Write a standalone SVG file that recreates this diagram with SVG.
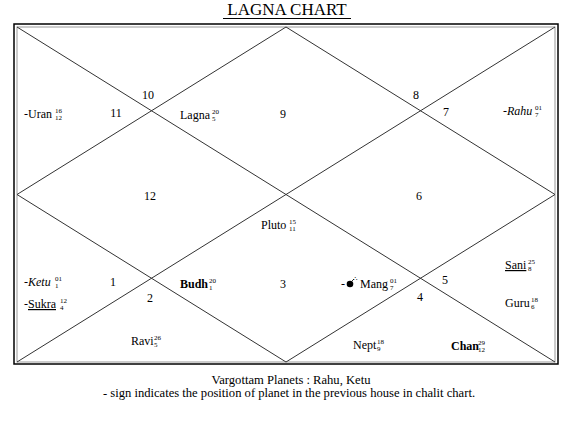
<svg xmlns="http://www.w3.org/2000/svg" width="561" height="427" viewBox="0 0 561 427">
<style>
text{font-family:"Liberation Serif","Times New Roman",serif;fill:#000;font-size:12px}
.t{font-size:17px}
.f{font-size:12.6px}
.s{font-size:7px}
.b{font-weight:bold}
.i{font-style:italic}
.u{text-decoration:underline}
.ln{stroke:#333;stroke-width:1;fill:none}
</style>
<rect width="561" height="427" fill="#fff"/>
<g id="title"><text class="t" x="287" y="15" text-anchor="middle">LAGNA CHART</text><line x1="223" y1="18.5" x2="351" y2="18.5" stroke="#000" stroke-width="1"/></g>
<g id="frame">
<rect x="14" y="24" width="544" height="340" fill="none" stroke="#000" stroke-width="1.5"/>
<rect x="17" y="27" width="538" height="335" fill="none" stroke="#999" stroke-width="1"/>
</g>
<g id="connectors">
<line class="ln" x1="17" y1="27" x2="555" y2="362"/>
<line class="ln" x1="555" y1="27" x2="17" y2="362"/>
<polygon class="ln" points="286,27 555,194.5 286,362 17,194.5"/>
</g>
<g id="house-numbers">
<text x="148" y="99" text-anchor="middle">10</text>
<text x="116" y="117" text-anchor="middle">11</text>
<text x="283" y="118" text-anchor="middle">9</text>
<text x="416" y="99" text-anchor="middle">8</text>
<text x="446" y="116" text-anchor="middle">7</text>
<text x="150" y="200" text-anchor="middle">12</text>
<text x="419" y="200" text-anchor="middle">6</text>
<text x="113" y="286" text-anchor="middle">1</text>
<text x="150" y="302" text-anchor="middle">2</text>
<text x="283" y="288" text-anchor="middle">3</text>
<text x="420" y="301" text-anchor="middle">4</text>
<text x="445" y="284" text-anchor="middle">5</text>
</g>
<g id="uran"><text x="24" y="118">-Uran</text><text class="s" x="55" y="113">16</text><text class="s" x="55" y="120">12</text></g>
<g id="lagna"><text x="180" y="119">Lagna</text><text class="s" x="212" y="114">20</text><text class="s" x="212" y="121">5</text></g>
<g id="rahu"><text x="503" y="115"><tspan>-</tspan><tspan class="i">Rahu</tspan></text><text class="s" x="535" y="110">01</text><text class="s" x="535" y="117">7</text></g>
<g id="pluto"><text x="261" y="229">Pluto</text><text class="s" x="289" y="224">15</text><text class="s" x="289" y="231">11</text></g>
<g id="ketu"><text x="24" y="286"><tspan>-</tspan><tspan class="i">Ketu</tspan></text><text class="s" x="55" y="281">01</text><text class="s" x="55" y="288">1</text></g>
<g id="sukra"><text x="24" y="308"><tspan>-</tspan><tspan class="u">Sukra</tspan></text><text class="s" x="60" y="303">12</text><text class="s" x="60" y="310">4</text></g>
<g id="budh"><text class="b" x="180" y="288">Budh</text><text class="s" x="209" y="283">20</text><text class="s" x="209" y="290">1</text></g>
<g id="mang"><text x="341" y="288">-</text><circle cx="350" cy="284" r="3.3" fill="#000"/><path d="M352 281 l2 -2" stroke="#000" stroke-width="0.8" fill="none"/><text class="s" x="353" y="281">∴</text><text x="360" y="288">Mang</text><text class="s" x="390" y="283">01</text><text class="s" x="390" y="290">7</text></g>
<g id="sani"><text class="u" x="505" y="269">Sani</text><text class="s" x="528" y="264">25</text><text class="s" x="528" y="271">8</text></g>
<g id="guru"><text x="505" y="307">Guru</text><text class="s" x="531" y="302">18</text><text class="s" x="531" y="309">6</text></g>
<g id="ravi"><text x="131" y="345">Ravi</text><text class="s" x="154" y="340">26</text><text class="s" x="154" y="347">5</text></g>
<g id="nept"><text x="353" y="349">Nept</text><text class="s" x="377" y="344">18</text><text class="s" x="377" y="351">9</text></g>
<g id="chan"><text class="b" x="451" y="350">Chan</text><text class="s" x="478" y="345">29</text><text class="s" x="478" y="352">12</text></g>
<g id="footer">
<text class="f" x="291" y="384" text-anchor="middle">Vargottam Planets : Rahu, Ketu</text>
<text class="f" x="289" y="397" text-anchor="middle">- sign indicates the position of planet in the previous house in chalit chart.</text>
</g>
</svg>
